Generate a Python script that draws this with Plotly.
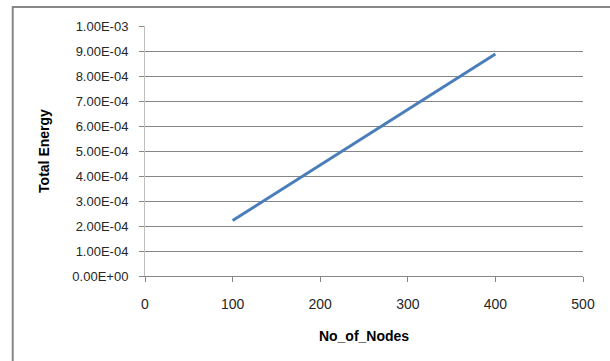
import plotly.graph_objects as go

# Data
no_of_nodes = [100, 200, 300, 400]
total_energy = [2.22e-4, 4.44e-4, 6.66e-4, 8.88e-4]

x_tick_vals = [0, 100, 200, 300, 400, 500]
y_tick_vals = [0, 1e-4, 2e-4, 3e-4, 4e-4, 5e-4, 6e-4, 7e-4, 8e-4, 9e-4, 1e-3]
y_tick_labels = ["0.00E+00", "1.00E-04", "2.00E-04", "3.00E-04", "4.00E-04",
                 "5.00E-04", "6.00E-04", "7.00E-04", "8.00E-04", "9.00E-04", "1.00E-03"]

FONT = "Liberation Sans, Arial, sans-serif"
TXT = "#262626"

fig = go.Figure()
fig.add_trace(go.Scatter(
    x=no_of_nodes, y=total_energy, mode="lines",
    line=dict(color="#4a7ebb", width=3),
    showlegend=False,
))

# outer chart frame
fig.add_shape(type="rect", xref="paper", yref="paper",
              x0=-0.302, x1=2.0, y0=-1.0, y1=1.076,
              line=dict(color="#878787", width=2), layer="below")

fig.update_layout(
    width=610, height=361,
    margin=dict(l=145, r=27, t=26, b=85),
    paper_bgcolor="white", plot_bgcolor="white",
    font=dict(family=FONT, size=12, color=TXT),
    xaxis=dict(
        range=[0, 500], tickvals=x_tick_vals,
        showgrid=False, zeroline=False,
        showline=True, linecolor="#868686", linewidth=1,
        ticks="outside", ticklen=5, tickcolor="#868686",
        ticklabelstandoff=10,
        tickfont=dict(family=FONT, size=14, color=TXT),
        title=dict(text="<b>No_of_Nodes</b>", standoff=20,
                   font=dict(family=FONT, size=14, color="black")),
    ),
    yaxis=dict(
        range=[0, 1e-3], tickvals=y_tick_vals, ticktext=y_tick_labels,
        showgrid=True, gridcolor="#868686", gridwidth=1,
        zeroline=False,
        showline=True, linecolor="#BFBFBF", linewidth=1,
        ticks="outside", ticklen=5, tickcolor="#868686",
        ticklabelstandoff=8,
        tickfont=dict(family=FONT, size=13, color=TXT),
        title=dict(text="<b>Total Energy</b>", standoff=19,
                   font=dict(family=FONT, size=14, color="black")),
    ),
)

fig.write_html("out.html", config={"displayModeBar": False},
               post_script="document.body.style.margin='0';")
